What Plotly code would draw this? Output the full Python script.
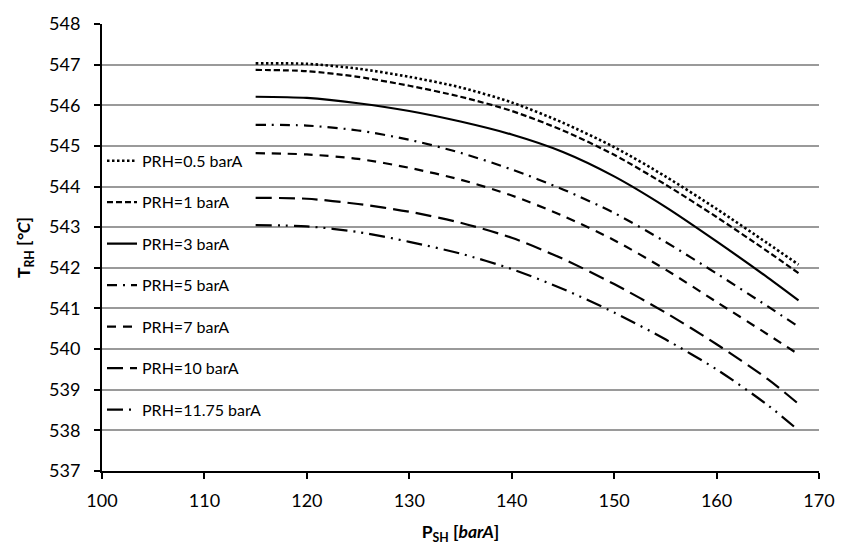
import plotly.graph_objects as go

P_SH = [115, 120, 125, 130, 135, 140, 145, 150, 155, 160, 165, 168]

T_05 = [547.03, 547.02, 546.90, 546.70, 546.44, 546.07, 545.57, 544.97, 544.25, 543.45, 542.60, 542.08]
T_1 = [546.87, 546.84, 546.70, 546.48, 546.21, 545.86, 545.38, 544.78, 544.05, 543.25, 542.40, 541.87]
T_3 = [546.21, 546.18, 546.05, 545.86, 545.60, 545.28, 544.85, 544.25, 543.50, 542.65, 541.76, 541.20]
T_5 = [545.52, 545.50, 545.38, 545.15, 544.83, 544.42, 543.93, 543.35, 542.64, 541.86, 541.05, 540.55]
T_7 = [544.82, 544.79, 544.68, 544.46, 544.17, 543.78, 543.28, 542.68, 541.96, 541.16, 540.36, 539.87]
T_10 = [543.72, 543.70, 543.57, 543.38, 543.11, 542.74, 542.22, 541.60, 540.90, 540.12, 539.26, 538.65]
T_1175 = [543.05, 543.02, 542.88, 542.64, 542.35, 541.97, 541.48, 540.90, 540.24, 539.50, 538.62, 538.00]

names = ["PRH=0.5 barA", "PRH=1 barA", "PRH=3 barA", "PRH=5 barA",
         "PRH=7 barA", "PRH=10 barA", "PRH=11.75 barA"]
series = [T_05, T_1, T_3, T_5, T_7, T_10, T_1175]
dashes = ["2.5px,2.5px", "6px,3px", "solid", "10px,6px,2px,6px",
          "9px,7px", "16px,7px", "16px,6px,2px,6px,2px,6px"]
widths = [2.6, 2.2, 2.2, 2.2, 2.2, 2.2, 2.2]

fig = go.Figure()
for i, (nm, ys, ds, w) in enumerate(zip(names, series, dashes, widths)):
    fig.add_trace(go.Scatter(
        x=P_SH, y=ys, mode="lines", name=nm, legendgroup=f"g{i}",
        line=dict(color="black", width=w, dash=ds, shape="spline", smoothing=0.8),
    ))

font_family = "Lato, 'Open Sans', sans-serif"

fig.update_layout(
    width=847, height=551,
    margin=dict(l=102, r=18, t=15, b=78),
    paper_bgcolor="white", plot_bgcolor="white",
    font=dict(family=font_family, color="black"),
    showlegend=True,
    legend=dict(
        x=0.0, y=0.732, xanchor="left", yanchor="top",
        bgcolor="rgba(0,0,0,0)", borderwidth=0,
        font=dict(size=16, family=font_family, color="black"),
        traceorder="grouped", tracegroupgap=17.7, itemwidth=30,
    ),
    xaxis=dict(
        range=[100, 170], dtick=10, tick0=100,
        showgrid=False, zeroline=False,
        showline=True, linecolor="black", linewidth=2,
        ticks="outside", ticklen=6, tickwidth=1.5, tickcolor="black",
        tickfont=dict(size=18, family=font_family, color="black"),
        ticklabelstandoff=6,
        title=dict(text="<b>P<sub>SH</sub> [<i>barA</i>]</b>",
                   font=dict(size=17.5, family=font_family, color="black"), standoff=16),
    ),
    yaxis=dict(
        range=[537, 548], dtick=1, tick0=537,
        showgrid=True, gridcolor="#9a9a9a", gridwidth=1.5, zeroline=False,
        showline=True, linecolor="black", linewidth=2,
        ticks="outside", ticklen=6, tickwidth=1.5, tickcolor="black",
        tickfont=dict(size=18, family=font_family, color="black"),
        ticklabelstandoff=10,
        title=dict(text="<b>T<sub>RH</sub> [<i>°C</i>]</b>",
                   font=dict(size=17.5, family=font_family, color="black"), standoff=14),
    ),
)

fig.write_html("out.html")
